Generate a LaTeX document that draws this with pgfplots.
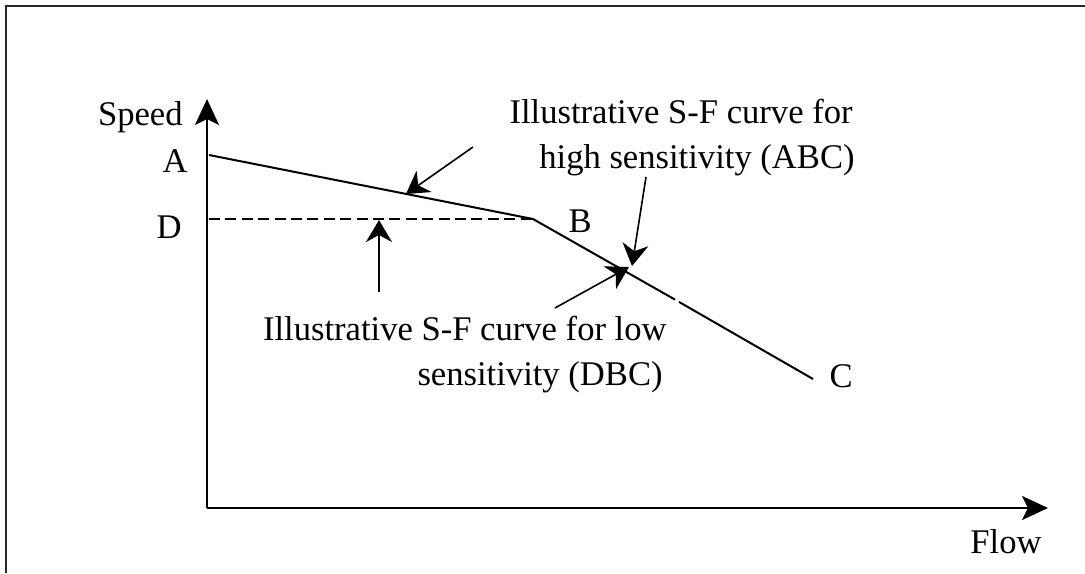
\documentclass[border=0pt]{standalone}
\usepackage{pgfplots}
\pgfplotsset{compat=1.18}
\usepackage{fontspec}
\setmainfont{Liberation Serif}
\usetikzlibrary{arrows.meta}

\begin{document}
\begin{tikzpicture}
\begin{axis}[
  scale only axis,
  width=542.5pt, height=286.5pt,
  xmin=0, xmax=1085, ymin=0, ymax=573,
  y dir=reverse,
  hide axis, clip=false,
  every axis plot/.append style={black, mark=none},
]
% fixed picture area
\path[use as bounding box] (axis cs:0,0) rectangle (axis cs:1085,573);

% picture frame (top and left edges)
\addplot[line width=1pt, black!85] coordinates {(6,573) (6,6) (1085,6)};

% axes
\addplot[line width=1.3pt, -{Stealth[length=13pt,width=12pt,inset=3pt]}]
  coordinates {(207,508) (207,99)};
\addplot[line width=1.3pt, -{Stealth[length=13pt,width=12pt,inset=3pt]}]
  coordinates {(207,508) (1048,508)};

% high sensitivity curve ABC
\addplot[line width=1pt] coordinates {(209,155) (533,219) (675,299.6)};
\addplot[line width=1pt] coordinates {(679,301.9) (813,379)};

% low sensitivity part DB
\addplot[line width=1pt, dash pattern=on 5.5pt off 2.7pt] coordinates {(209,219) (533,219)};

% callout arrows
\addplot[line width=0.8pt, -{Stealth[length=11pt,width=13pt,inset=3.5pt]}]
  coordinates {(473,147) (406,194)};
\addplot[line width=0.8pt, -{Stealth[length=11pt,width=13pt,inset=3.5pt]}]
  coordinates {(646,177) (632,266)};
\addplot[line width=0.8pt, -{Stealth[length=11pt,width=13pt,inset=3.5pt]}]
  coordinates {(555,308) (629,267)};
\addplot[line width=0.8pt, -{Stealth[length=11pt,width=13pt,inset=3.5pt]}]
  coordinates {(379,292) (379,220)};

% labels
\begin{scope}[every node/.style={font=\fontsize{17.3pt}{20pt}\selectfont, inner sep=0pt, anchor=base east}]
\node at (axis cs:183,125) {Speed};
\node at (axis cs:188,172) {A};
\node at (axis cs:182,238) {D};
\node at (axis cs:592,232) {B};
\node at (axis cs:853,387) {C};
\node at (axis cs:1042,553) {Flow};
\node at (axis cs:853,123) {Illustrative S-F curve for};
\node at (axis cs:855,168) {high sensitivity (ABC)};
\node at (axis cs:667,340) {Illustrative S-F curve for low};
\node at (axis cs:663,385) {sensitivity (DBC)};
\end{scope}
\end{axis}
\end{tikzpicture}
\end{document}
